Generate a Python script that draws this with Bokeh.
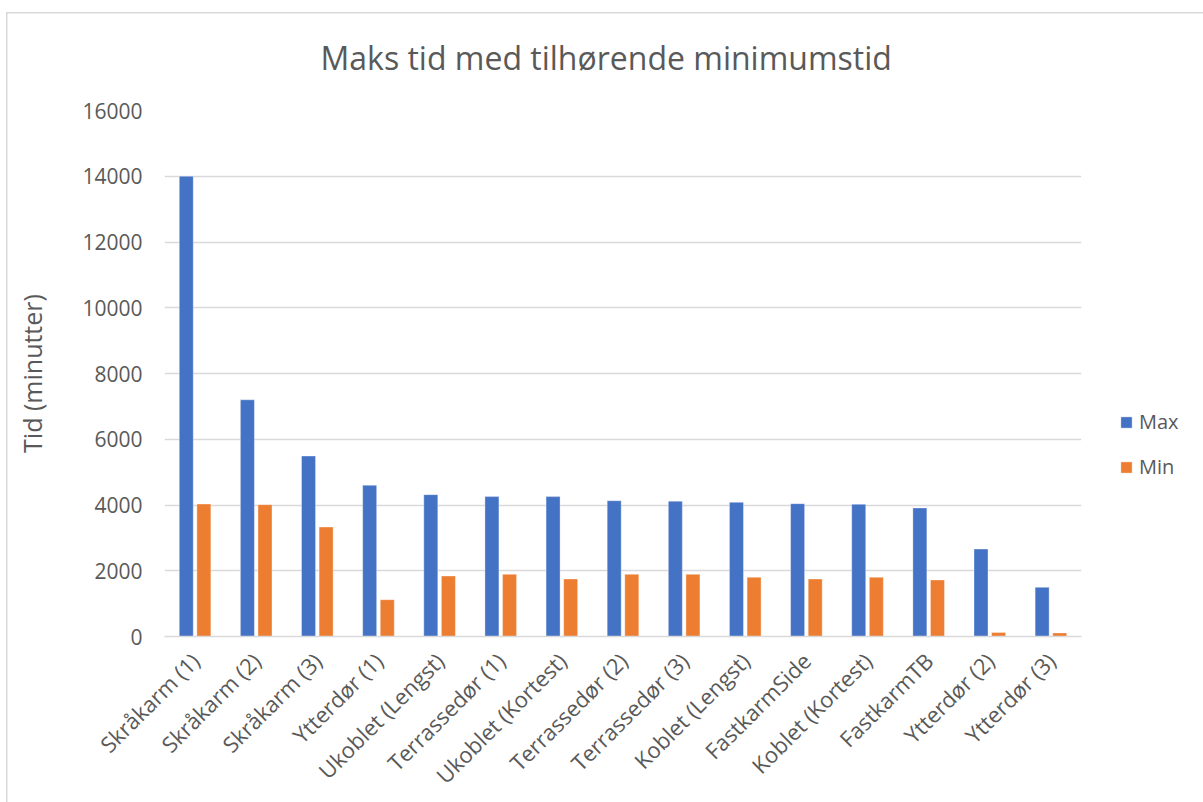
import math
from bokeh.plotting import figure
from bokeh.models import ColumnDataSource, FactorRange, Legend, LegendItem, SingleIntervalTicker, NumeralTickFormatter
from bokeh.transform import dodge
from bokeh.embed import file_html
from bokeh.resources import INLINE

# Data
categories = ["Skråkarm (1)", "Skråkarm (2)", "Skråkarm (3)", "Ytterdør (1)",
              "Ukoblet (Lengst)", "Terrassedør (1)", "Ukoblet (Kortest)",
              "Terrassedør (2)", "Terrassedør (3)", "Koblet (Lengst)",
              "FastkarmSide", "Koblet (Kortest)", "FastkarmTB",
              "Ytterdør (2)", "Ytterdør (3)"]
max_values = [14000, 7200, 5490, 4600, 4315, 4255, 4255, 4130, 4115, 4080,
              4040, 4020, 3910, 2660, 1495]
min_values = [4030, 4010, 3330, 1120, 1840, 1890, 1750, 1890, 1890, 1800,
              1750, 1800, 1720, 120, 110]
series_names = ["Max", "Min"]

BLUE = "#4472C4"
ORANGE = "#ED7D31"
TEXT = "#595959"
GRID = "#D9D9D9"
FONT = "Open Sans"

source = ColumnDataSource(dict(cat=categories, mx=max_values, mn=min_values))

p = figure(
    x_range=FactorRange(*categories, range_padding=0),
    y_range=(0, 16000),
    frame_width=917, frame_height=526,
    min_border_left=164, min_border_top=110, min_border_bottom=166, min_border_right=122,
    output_backend="svg", toolbar_location=None,
    title="Maks tid med tilhørende minimumstid",
)
# transparent canvas over a white page with the chart-area edge lines
p.border_fill_color = None
p.background_fill_color = None
p.styles = {
    "background": (
        "linear-gradient(#D9D9D9, #D9D9D9) 6px 12px / 1197px 1.5px no-repeat, "
        "linear-gradient(#D9D9D9, #D9D9D9) 6px 12px / 1.5px 790px no-repeat, white"
    )
}

r_max = p.vbar(x=dodge("cat", -0.144, range=p.x_range), top="mx", width=0.229,
               source=source, fill_color=BLUE, line_color="white", line_alpha=0.35, line_width=1)
r_min = p.vbar(x=dodge("cat", 0.144, range=p.x_range), top="mn", width=0.229,
               source=source, fill_color=ORANGE, line_color="white", line_alpha=0.35, line_width=1)

# Title
p.title.text_font = FONT
p.title.text_font_size = "32px"
p.title.text_font_style = "normal"
p.title.text_color = TEXT
p.title.align = "left"
p.title.offset = 156
p.title.standoff = 63

# Axes
p.yaxis.ticker = SingleIntervalTicker(interval=2000)
p.yaxis.formatter = NumeralTickFormatter(format="0")
p.yaxis.axis_label = "Tid (minutter)"
p.yaxis.axis_label_text_font = FONT
p.yaxis.axis_label_text_font_size = "25px"
p.yaxis.axis_label_text_font_style = "normal"
p.yaxis.axis_label_text_color = TEXT
p.yaxis.axis_label_standoff = 30
p.yaxis.axis_line_color = None
p.yaxis.major_tick_line_color = None
p.yaxis.minor_tick_line_color = None
p.yaxis.major_label_standoff = 16
p.yaxis.major_label_text_font_size = "21px"

p.xaxis.axis_line_color = GRID
p.xaxis.axis_line_width = 1.5
p.xaxis.major_tick_line_color = None
p.xaxis.minor_tick_line_color = None
p.xaxis.major_label_orientation = math.pi / 4
p.xaxis.major_label_standoff = 14
p.xaxis.major_label_text_font_size = "22px"

for ax in (p.xaxis[0], p.yaxis[0]):
    ax.major_label_text_font = FONT
    ax.major_label_text_color = TEXT

p.xgrid.grid_line_color = None
p.ygrid.grid_line_color = GRID
p.ygrid.grid_line_width = 1.5
p.outline_line_color = None

# Legend, in the right-hand panel
legend = Legend(
    items=[LegendItem(label=series_names[0], renderers=[r_max]),
           LegendItem(label=series_names[1], renderers=[r_min])],
    location=(38, 156),
    orientation="vertical",
    glyph_width=14, glyph_height=14,
    label_text_font=FONT, label_text_font_size="20px", label_text_color=TEXT,
    label_standoff=6, spacing=18, padding=0, margin=0,
    background_fill_alpha=0, border_line_color=None,
)
p.add_layout(legend, "right")

open("out.html", "w").write(file_html(p, INLINE))
